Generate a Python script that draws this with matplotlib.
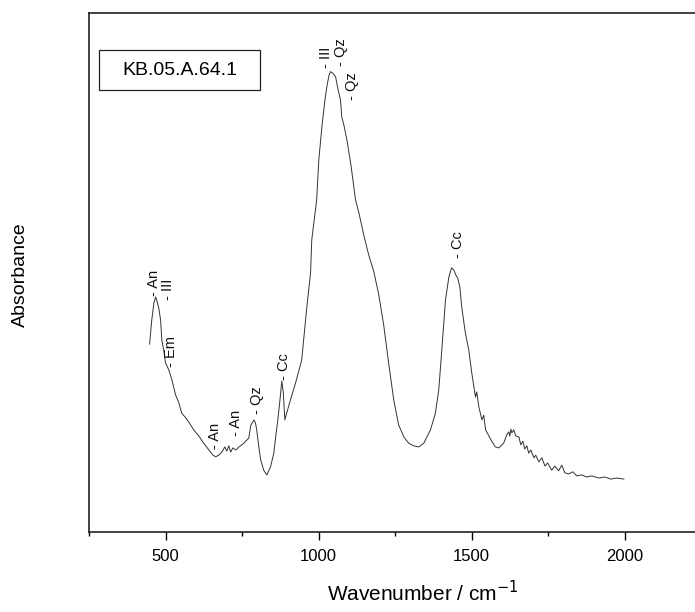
import matplotlib
matplotlib.use("Agg")
import matplotlib.pyplot as plt
from matplotlib.patches import Rectangle
from matplotlib.ticker import MultipleLocator

plt.rcParams['font.family'] = ['Liberation Sans', 'DejaVu Sans']

# spectrum (wavenumber, absorbance in arbitrary units)
wavenumber = [448, 455, 462, 468, 473, 478, 484, 488, 494, 500,
              511, 521, 533, 543, 553, 566, 576, 592, 609, 625,
              642, 655, 664, 674, 684, 694, 700, 707, 713, 720,
              730, 740, 756, 772, 779, 789, 794, 798, 805, 811,
              821, 831, 843, 854, 860, 867, 874, 880, 885, 890,
              896, 908, 925, 945, 962, 974, 978, 994, 1001, 1011,
              1021, 1027, 1034, 1039, 1047, 1056, 1063, 1072, 1076, 1083,
              1093, 1106, 1121, 1132, 1148, 1164, 1181, 1197, 1213, 1230,
              1246, 1262, 1279, 1295, 1311, 1328, 1344, 1366, 1382, 1393,
              1403, 1415, 1426, 1435, 1442, 1449, 1455, 1462, 1468, 1480,
              1491, 1501, 1513, 1517, 1524, 1534, 1540, 1546, 1557, 1566,
              1578, 1589, 1605, 1615, 1622, 1625, 1629, 1632, 1638, 1645,
              1655, 1661, 1668, 1674, 1681, 1687, 1694, 1704, 1710, 1720,
              1730, 1740, 1749, 1762, 1772, 1785, 1795, 1805, 1818, 1831,
              1844, 1860, 1876, 1893, 1916, 1935, 1955, 1975, 1998]
absorbance = [0.362, 0.408, 0.441, 0.453, 0.443, 0.432, 0.408, 0.370, 0.351, 0.326,
              0.312, 0.293, 0.264, 0.250, 0.229, 0.220, 0.212, 0.197, 0.185, 0.171,
              0.158, 0.148, 0.145, 0.148, 0.154, 0.164, 0.156, 0.166, 0.154, 0.162,
              0.158, 0.164, 0.171, 0.181, 0.206, 0.216, 0.210, 0.197, 0.164, 0.139,
              0.119, 0.110, 0.125, 0.152, 0.183, 0.216, 0.254, 0.291, 0.268, 0.216,
              0.229, 0.254, 0.287, 0.331, 0.434, 0.499, 0.563, 0.640, 0.717, 0.780,
              0.832, 0.857, 0.879, 0.887, 0.884, 0.877, 0.855, 0.832, 0.800, 0.784,
              0.755, 0.707, 0.640, 0.615, 0.572, 0.534, 0.501, 0.457, 0.399, 0.322,
              0.254, 0.206, 0.183, 0.171, 0.166, 0.164, 0.171, 0.197, 0.229, 0.274,
              0.351, 0.447, 0.491, 0.509, 0.505, 0.495, 0.489, 0.472, 0.434, 0.383,
              0.351, 0.306, 0.260, 0.270, 0.241, 0.216, 0.225, 0.197, 0.185, 0.175,
              0.164, 0.162, 0.171, 0.187, 0.193, 0.185, 0.198, 0.191, 0.197, 0.185,
              0.183, 0.168, 0.175, 0.160, 0.166, 0.152, 0.158, 0.143, 0.148, 0.135,
              0.143, 0.127, 0.133, 0.119, 0.127, 0.118, 0.129, 0.114, 0.112, 0.116,
              0.108, 0.110, 0.106, 0.108, 0.104, 0.106, 0.102, 0.104, 0.102]

# band assignments
band_labels = ["An", "III", "Em", "An", "An", "Qz", "Cc", "III", "Qz", "Qz", "Cc"]
band_wn = [462, 508, 517, 663, 729, 798, 887, 1026, 1072, 1108, 1455]
band_abs = [0.455, 0.447, 0.318, 0.160, 0.185, 0.227, 0.293, 0.894, 0.898, 0.832, 0.528]

sample_name = "KB.05.A.64.1"
xticks = [500, 1000, 1500, 2000]

fig = plt.figure(figsize=(6.95, 6.12), dpi=100)
ax = fig.add_axes([89 / 695, 80 / 612, 612 / 695, 519 / 612])

ax.plot(wavenumber, absorbance, color="#333333", lw=0.7)

for lab, w, a in zip(band_labels, band_wn, band_abs):
    ax.text(w, a, "- " + lab, rotation=90, rotation_mode="anchor",
            ha="left", va="center", fontsize=10.5, color="#111111")

ax.set_xlim(250, 2250)
ax.set_ylim(0, 1)
ax.set_xticks(xticks)
ax.xaxis.set_minor_locator(MultipleLocator(250))
ax.set_yticks([])
ax.tick_params(axis="x", which="major", length=6, width=1, labelsize=12, pad=6)
ax.tick_params(axis="x", which="minor", length=3, width=1)
for s in ax.spines.values():
    s.set_linewidth(1.2)
    s.set_color("#222222")

# sample name box
ax.add_patch(Rectangle((0.0163, 0.852), 0.263, 0.077, transform=ax.transAxes,
                       fill=False, lw=0.9, ec="#222222"))
ax.text(0.148, 0.890, sample_name, transform=ax.transAxes, ha="center",
        va="center", fontsize=14)

fig.text(20 / 695, 1 - 275 / 612, "Absorbance", rotation=90, ha="center",
         va="center", fontsize=14)
fig.text(423 / 695, 1 - 593 / 612, "Wavenumber / cm$^{-1}$", ha="center",
         va="center", fontsize=15)

fig.savefig("out.png", dpi=100)
